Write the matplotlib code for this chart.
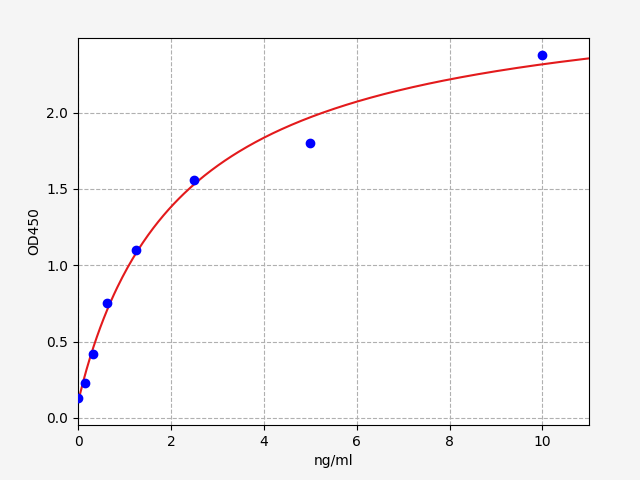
import numpy as np
import matplotlib
matplotlib.use("Agg")
import matplotlib.pyplot as plt

conc = [0, 0.156, 0.3125, 0.625, 1.25, 2.5, 5, 10]
od = [0.13, 0.23, 0.42, 0.75, 1.10, 1.56, 1.80, 2.38]

# fitted curve parameters
bottom, top, half, slope = 0.1, 2.75, 2.3, 0.97

x = np.linspace(0, 11, 300)
y = bottom + top * x**slope / (half**slope + x**slope)

fig, ax = plt.subplots(figsize=(6.4, 4.8), dpi=100)
plt.subplots_adjust(left=0.122, right=0.920, top=0.921, bottom=0.115)
ax.plot(x, y, color="#e31a1c", zorder=2)
ax.plot(conc, od, "o", color="blue", zorder=3)
ax.set_xlim(0, 11)
ax.set_ylim(-0.046, 2.49)
ax.grid(True, linestyle="--", color="#b0b0b0")
ax.set_xlabel("ng/ml")
ax.set_ylabel("OD450")
fig.patch.set_facecolor("#f5f5f5")
plt.savefig("out.png")
